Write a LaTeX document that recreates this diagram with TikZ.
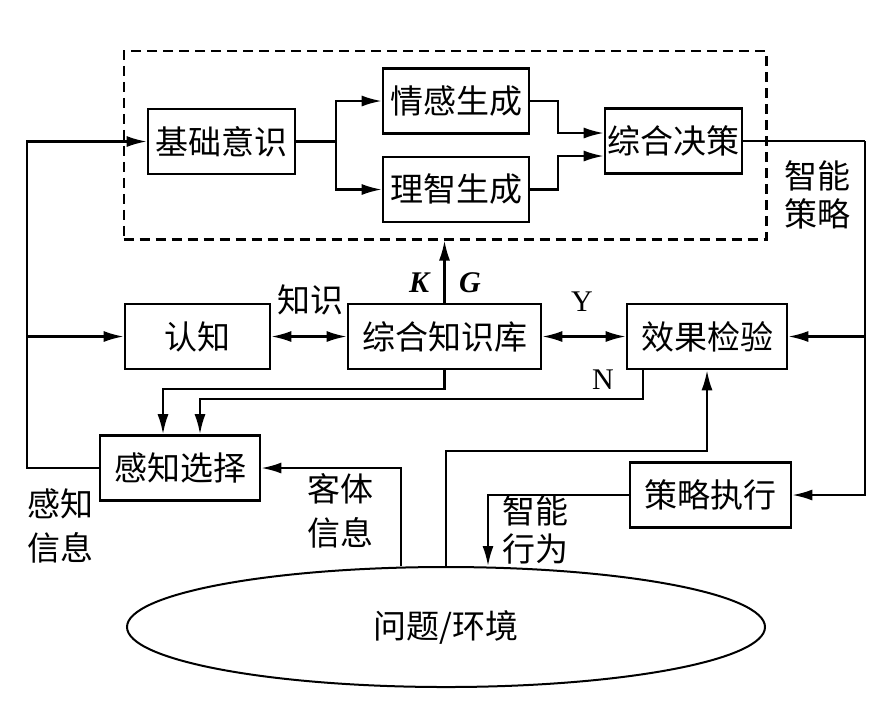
\documentclass[tikz,border=0pt]{standalone}
\usepackage{fontspec}
\setmainfont{Liberation Serif}
\newfontfamily\cjk{Noto Sans CJK SC}
\usepackage{tikz}
\usetikzlibrary{calc,arrows.meta,shapes.geometric,fit}

\begin{document}
\begin{tikzpicture}[x=0.5pt,y=-0.5pt,>={Latex[length=10pt,width=5.5pt]},line width=1.1pt,
	box/.style={draw,line width=1.3pt,minimum height=32.5pt,inner sep=0pt,font=\cjk\fontsize{16.5}{19}\selectfont},
	lbl/.style={font=\cjk\fontsize{16.5}{19}\selectfont,align=center,inner sep=0pt},
	ltr/.style={font=\fontsize{15}{18}\selectfont,inner sep=0pt}]
			\useasboundingbox (0,0) rectangle (886,720);
			
			\node[box,minimum width=73.5pt] (jichu) at (221.5,141.5) {基础意识};
			\node[box,minimum width=73pt] (qinggan) at (456,101) {情感生成};
			\node[box,minimum width=73pt] (lizhi) at (456,189.5) {理智生成};
			\node[box,minimum width=68.5pt] (juece) at (673.5,141) {综合决策};
			\node[draw,dash pattern=on 5pt off 3pt,line width=1.2pt,inner xsep=11.5pt,inner ysep=8pt,
			fit=(jichu)(qinggan)(lizhi)(juece)] (yishi) {};
			
			\node[box,minimum width=72.5pt] (renzhi) at (197.5,336.5) {认知};
			\node[box,minimum width=96.5pt] (zhishiku) at (444.5,336.5) {综合知识库};
			\node[box,minimum width=80pt] (jianyan) at (707,336.5) {效果检验};
			\node[box,minimum width=80pt] (ganzhi) at (180,468) {感知选择};
			\node[box,minimum width=80.5pt] (zhixing) at (710.5,495) {策略执行};
			\node[ellipse,draw,line width=1pt,minimum width=319pt,minimum height=60pt,inner sep=0pt,
			font=\cjk\fontsize{16.5}{19}\selectfont] (huanjing) at (446,627) {问题/环境};
			
			\coordinate (fen) at ($(jichu.east)+(40,0)$);
			\draw (jichu.east) -- (fen);
			\draw[->] (fen) |- (qinggan.west);
			\draw[->] (fen) |- (lizhi.west);
			\draw[->] (qinggan.east) -- ++(28,0) |- ($(juece.west)+(0,-8)$);
			\draw[->] (lizhi.east) -- ++(28,0) |- ($(juece.west)+(0,15)$);
			
			\coordinate (you) at (865,141);
			\draw (juece.east) -- (you);
			\draw[->] (you) |- (zhixing.east);
			\draw[->] (you |- jianyan.east) -- (jianyan.east);
			\node[lbl] (celve) at (817,195) {智能\\策略};
			
			\draw[->] (zhishiku.north) -- (zhishiku.north |- yishi.south);
			\node[ltr] (K) at (420,283) {\textbf{\textit{K}}};
			\node[ltr] (G) at (470,283) {\textbf{\textit{G}}};
			
			\draw[<->] (renzhi.east) -- (zhishiku.west);
			\node[lbl] (zhishi) at (310,300) {知识};
			\draw[<->] (zhishiku.east) -- (jianyan.west);
			\node[ltr] (Y) at (582,302) {Y};
			
			\coordinate (zuo) at (27,468);
			\draw[->] (ganzhi.west) -- (zuo) |- (jichu.west);
			\draw[->] (zuo |- renzhi.west) -- (renzhi.west);
			\node[lbl] (ganzhixinxi) at (60,526) {感知\\[3pt]信息};
			
			\draw[->] (zhishiku.south) -- ++(0,19) -| ($(ganzhi.north)+(-17,0)$);
			\draw[->] ($(jianyan.south)+(-64,0)$) -- ++(0,29) -| ($(ganzhi.north)+(20,0)$);
			\node[ltr] (N) at (603,380) {N};
			
			\draw[->] (huanjing.north) -- ++(0,-115) -| (jianyan.south);
			\draw[->] ($(huanjing.north)+(-45,0)$) |- (ganzhi.east);
			\node[lbl] (keti) at (340,511) {客体\\[3pt]信息};
			\draw[->] (zhixing.west) -| ($(huanjing.north)+(42,0)$);
			\node[lbl] (xingwei) at (535,530) {智能\\行为};
		\end{tikzpicture}
\end{document}
